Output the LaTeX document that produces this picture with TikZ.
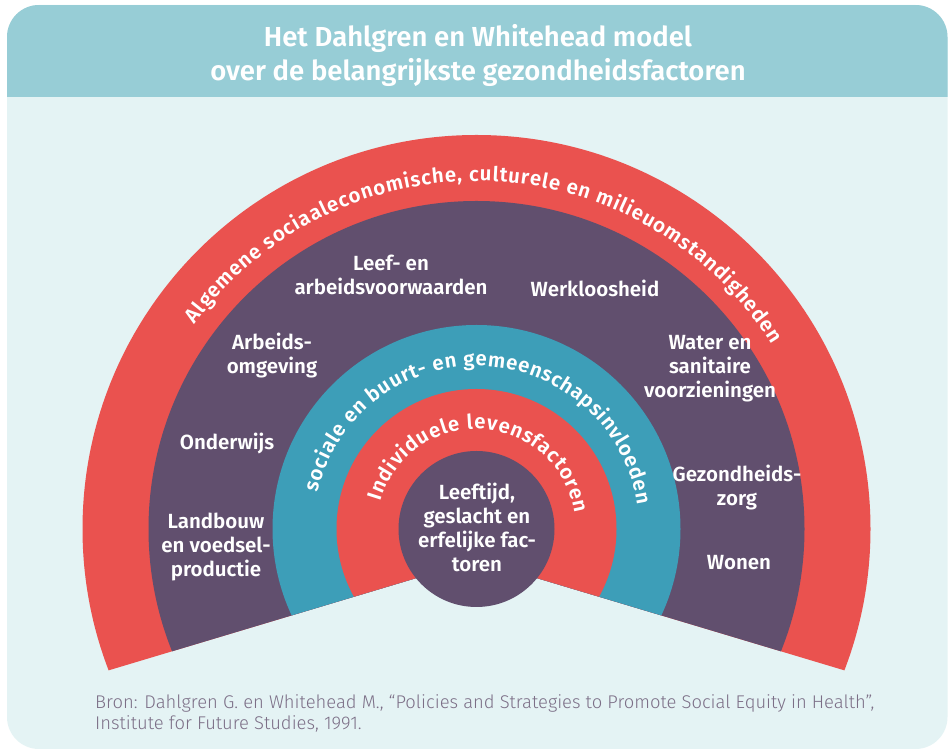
\documentclass[tikz,border=0pt]{standalone}
\usepackage{fontspec}
\usetikzlibrary{decorations.text}
\setmainfont{Fira Sans}[BoldFont={Fira Sans SemiBold}]
\newfontfamily\lightfont{Fira Sans Light}

\definecolor{panelbg}{HTML}{E4F3F4}
\definecolor{headbg}{HTML}{97CDD6}
\definecolor{ringred}{HTML}{EA524F}
\definecolor{ringpurple}{HTML}{614F6E}
\definecolor{ringteal}{HTML}{3D9EB8}
\definecolor{sourcegrey}{HTML}{7C6F87}

\tikzset{
  ringlabel/.style={text=white, align=center, inner sep=0pt,
    font=\fontsize{20.5}{24}\selectfont\bfseries},
  titletext/.style={text=white, align=center, inner sep=0pt,
    font=\fontsize{27.5}{34}\selectfont\bfseries},
  sourcetext/.style={text=sourcegrey, anchor=base west, inner sep=0pt,
    font=\fontsize{18.4}{21}\lightfont},
  arctext/.style={decorate, decoration={text along path, text align=fit to path,
    text color=white, text={|\fontsize{20.5}{20}\selectfont\bfseries|#1}}}
}

\begin{document}
\begin{tikzpicture}[x=1pt,y=1pt]
\useasboundingbox (0,0) rectangle (948,749);
\fill[white] (0,0) rectangle (948,749);

% panel and header band
\fill[panelbg, rounded corners=32] (7,0) rectangle (947.5,744);
\begin{scope}
  \clip[rounded corners=32] (7,0) rectangle (947.5,744);
  \fill[headbg] (7,652) rectangle (947.5,744);
\end{scope}

\coordinate (ctr) at (476.5,220);
\coordinate (apex) at (476.5,189);

% the fan of rings, cut open below
\begin{scope}
  \clip (apex) -- ++(-700,-210) -- ++(0,900) -- ++(1400,0) -- ++(0,-900) -- cycle;
  \fill[ringred] (ctr) circle[radius=394];
  \fill[ringpurple] (ctr) circle[radius=328];
  \fill[ringteal] (ctr) circle[radius=204];
  \fill[ringred] (ctr) circle[radius=140];
\end{scope}
\fill[ringpurple] (ctr) circle[radius=78];

% ring titles along the arcs
\path[arctext={Algemene sociaaleconomische, culturele en milieuomstandigheden}]
  ([shift={(144:348)}]ctr) arc[start angle=144, end angle=32, radius=348];
\path[arctext={sociale en buurt- en gemeenschapsinvloeden}]
  ([shift={(167:163)}]ctr) arc[start angle=167, end angle=8.5, radius=163];
\path[arctext={Individuele levensfactoren}]
  ([shift={(164:100)}]ctr) arc[start angle=164, end angle=9, radius=100];

% title
\node[titletext] (title) at (478,694)
  {Het Dahlgren en Whitehead model\\over de belangrijkste gezondheidsfactoren};

% labels in the outer ring
\node[ringlabel] (leef) at (391,474) {Leef- en\\arbeidsvoorwaarden};
\node[ringlabel] (werk) at (595,461) {Werkloosheid};
\node[ringlabel] (arbeid) at (272,393) {Arbeids-\\omgeving};
\node[ringlabel] (water) at (710,380) {Water en\\sanitaire\\voorzieningen};
\node[ringlabel] (onder) at (227,305) {Onderwijs};
\node[ringlabel] (zorg) at (737,261) {Gezondheids-\\zorg};
\node[ringlabel] (land) at (216,202) {Landbouw\\en voedsel-\\productie};
\node[ringlabel] (wonen) at (739,186) {Wonen};
\node[ringlabel] (kern) at (477,222) {Leeftijd,\\geslacht en\\erfelijke fac-\\toren};

% source
\node[sourcetext] (bron1) at (95,40)
  {Bron: Dahlgren G. en Whitehead M., “Policies and Strategies to Promote Social Equity in Health”,};
\node[sourcetext] (bron2) at (95,19) {Institute for Future Studies, 1991.};
\end{tikzpicture}
\end{document}
